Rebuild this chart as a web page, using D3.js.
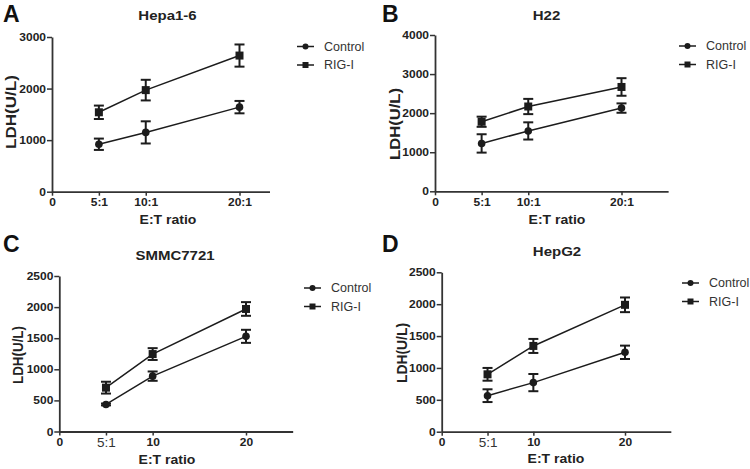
<!DOCTYPE html>
<html><head><meta charset="utf-8">
<script src="https://cdn.jsdelivr.net/npm/d3@7"></script>
<style>body{margin:0;background:#fff}svg{display:block}text{font-family:"Liberation Sans",Arial,sans-serif}</style>
</head><body>
<svg id="c" width="750" height="469"></svg>
<script>
// ---- data ----
const ratios = [5, 10, 20];
const seriesNames = ["Control", "RIG-I"];
const panelLetters = ["A", "B", "C", "D"];
const panelTitles = ["Hepa1-6", "H22", "SMMC7721", "HepG2"];
const xTickValues = [0, 5, 10, 20];
const xTickLabelsAB = ["0", "5:1", "10:1", "20:1"];
const xTickLabelsCD = ["0", "5:1", "10", "20"];
const yTicksA = [0, 1000, 2000, 3000];
const yTicksB = [0, 1000, 2000, 3000, 4000];
const yTicksCD = [0, 500, 1000, 1500, 2000, 2500];

const hepaControl = [920, 1150, 1640];
const hepaControlErr = [110, 215, 120];
const hepaRig = [1540, 1970, 2640];
const hepaRigErr = [130, 200, 215];

const h22Control = [1225, 1545, 2130];
const h22ControlErr = [235, 220, 120];
const h22Rig = [1780, 2170, 2670];
const h22RigErr = [130, 195, 225];

const smmcControl = [435, 890, 1530];
const smmcControlErr = [15, 75, 105];
const smmcRig = [705, 1245, 1970];
const smmcRigErr = [95, 95, 110];

const hepg2Control = [565, 770, 1245];
const hepg2ControlErr = [100, 135, 105];
const hepg2Rig = [900, 1345, 1990];
const hepg2RigErr = [100, 110, 115];

// ---- layout ----
const panels = [
  {letter: panelLetters[0], title: panelTitles[0], x0: 52, x20: 239.5, xMax: 23.2, yB: 191.7, yT: 37, yMax: 3000, yTicks: yTicksA, xLabels: xTickLabelsAB,
   ctrl: hepaControl, ctrlErr: hepaControlErr, rig: hepaRig, rigErr: hepaRigErr,
   letterPos: [3, 22], titlePos: [167.5, 19.5], yLabPos: [11, 112], xLabPos: [168, 224], legend: [297, 46.5], yLabLen: 74},
  {letter: panelLetters[1], title: panelTitles[1], x0: 435, x20: 621.5, xMax: 25, yB: 191.3, yT: 35, yMax: 4000, yTicks: yTicksB, xLabels: xTickLabelsAB,
   ctrl: h22Control, ctrlErr: h22ControlErr, rig: h22Rig, rigErr: h22RigErr,
   letterPos: [382, 22], titlePos: [546.5, 19.5], yLabPos: [395, 124], xLabPos: [557, 224], legend: [679, 46], yLabLen: 72},
  {letter: panelLetters[2], title: panelTitles[2], x0: 59.3, x20: 246, xMax: 25, yB: 431.5, yT: 276, yMax: 2500, yTicks: yTicksCD, xLabels: xTickLabelsCD,
   ctrl: smmcControl, ctrlErr: smmcControlErr, rig: smmcRig, rigErr: smmcRigErr,
   letterPos: [3, 252], titlePos: [175, 259.5], yLabPos: [18, 355], xLabPos: [167, 464], legend: [304, 288], yLabLen: 58},
  {letter: panelLetters[3], title: panelTitles[3], x0: 441.7, x20: 625, xMax: 25, yB: 431.7, yT: 272.3, yMax: 2500, yTicks: yTicksCD, xLabels: xTickLabelsCD,
   ctrl: hepg2Control, ctrlErr: hepg2ControlErr, rig: hepg2Rig, rigErr: hepg2RigErr,
   letterPos: [382, 252], titlePos: [557, 256], yLabPos: [402, 353], xLabPos: [556, 463], legend: [682, 283], yLabLen: 60}
];

const svg = d3.select("#c");
const ink = "#1c1c1c";
const axisInk = "#333";
const SX = 1.2; // horizontal stretch of the original figure text

panels.forEach(p => {
  const g = svg.append("g");
  const x = d3.scaleLinear().domain([0, 20]).range([p.x0, p.x20]);
  const xEnd = x(p.xMax);
  x.domain([0, p.xMax]).range([p.x0, xEnd]);
  const y = d3.scaleLinear().domain([0, p.yMax]).range([p.yB, p.yT]);

  // Y axis
  const ya = g.append("g").attr("transform", `translate(${p.x0},0)`)
    .call(d3.axisLeft(y).tickValues(p.yTicks).tickFormat(d3.format("d")).tickSize(5).tickSizeOuter(0));
  ya.select(".domain").attr("stroke", axisInk).attr("stroke-width", 1.8);
  ya.selectAll(".tick line").attr("stroke", axisInk).attr("stroke-width", 1.5);
  ya.selectAll(".tick text").attr("x", -6 / SX).attr("dy", "0.35em")
    .attr("transform", `scale(${SX},1)`)
    .attr("font-size", 10).attr("font-weight", "bold").attr("fill", "#222")
    .attr("font-family", "'Liberation Sans', Arial, sans-serif");

  // X axis
  const xa = g.append("g").attr("transform", `translate(0,${p.yB})`)
    .call(d3.axisBottom(x).tickValues(xTickValues).tickFormat((d, i) => p.xLabels[i]).tickSize(4).tickSizeOuter(0));
  xa.select(".domain").attr("stroke", axisInk).attr("stroke-width", 1.8);
  xa.selectAll(".tick line").attr("stroke", axisInk).attr("stroke-width", 1.5);
  xa.selectAll(".tick text").attr("y", 7.5).attr("dy", "0.71em")
    .attr("transform", `scale(${SX},1)`)
    .attr("font-size", 10).attr("font-weight", "bold").attr("fill", "#222")
    .attr("font-family", "'Liberation Sans', Arial, sans-serif");
  if (p.xLabels === xTickLabelsCD) {
    xa.selectAll(".tick text").filter((d) => d === 5)
      .attr("font-weight", "normal").attr("font-size", 13.5).attr("transform", null).attr("y", 6).attr("fill", "#333");
  }

  // series
  const series = [
    {vals: p.ctrl, errs: p.ctrlErr, shape: "circle"},
    {vals: p.rig, errs: p.rigErr, shape: "square"}
  ];
  series.forEach(s => {
    const pts = ratios.map((r, i) => ({x: r, y: s.vals[i], e: s.errs[i]}));
    g.append("path").datum(pts)
      .attr("d", d3.line().x(d => x(d.x)).y(d => y(d.y)))
      .attr("fill", "none").attr("stroke", ink).attr("stroke-width", 1.5);
    const eb = g.append("g").selectAll("g").data(pts).join("g");
    eb.append("line").attr("x1", d => x(d.x)).attr("x2", d => x(d.x))
      .attr("y1", d => y(d.y + d.e)).attr("y2", d => y(d.y - d.e))
      .attr("stroke", ink).attr("stroke-width", 2);
    eb.append("line").attr("x1", d => x(d.x) - 5).attr("x2", d => x(d.x) + 5)
      .attr("y1", d => y(d.y + d.e)).attr("y2", d => y(d.y + d.e))
      .attr("stroke", ink).attr("stroke-width", 2);
    eb.append("line").attr("x1", d => x(d.x) - 5).attr("x2", d => x(d.x) + 5)
      .attr("y1", d => y(d.y - d.e)).attr("y2", d => y(d.y - d.e))
      .attr("stroke", ink).attr("stroke-width", 2);
    if (s.shape === "circle") {
      eb.append("circle").attr("cx", d => x(d.x)).attr("cy", d => y(d.y)).attr("r", 3.8).attr("fill", ink);
    } else {
      eb.append("rect").attr("x", d => x(d.x) - 4).attr("y", d => y(d.y) - 4)
        .attr("width", 8).attr("height", 8).attr("fill", ink);
    }
  });

  // legend
  const lg = g.append("g").attr("transform", `translate(${p.legend[0]},${p.legend[1]})`);
  seriesNames.forEach((name, i) => {
    const row = lg.append("g").attr("transform", `translate(0,${i * 18.5})`);
    row.append("line").attr("x1", 0).attr("x2", 17).attr("y1", 0).attr("y2", 0)
      .attr("stroke", ink).attr("stroke-width", 1.5);
    if (i === 0) row.append("circle").attr("cx", 8.5).attr("cy", 0).attr("r", 3).attr("fill", ink);
    else row.append("rect").attr("x", 5.5).attr("y", -3).attr("width", 6).attr("height", 6).attr("fill", ink);
    row.append("text").attr("x", 27).attr("y", 0).attr("dy", "0.35em")
      .attr("font-size", 12.5).attr("fill", "#333").text(name);
  });

  // panel letter
  g.append("text").attr("x", p.letterPos[0]).attr("y", p.letterPos[1])
    .attr("font-size", 23).attr("font-weight", "bold").attr("fill", "#111").text(p.letter);
  // title
  g.append("text").attr("transform", `translate(${p.titlePos[0]},${p.titlePos[1]}) scale(1.2,1)`)
    .attr("text-anchor", "middle").attr("font-size", 12.5).attr("font-weight", "bold").attr("fill", "#222").text(p.title);
  // y label
  g.append("text").attr("transform", `translate(${p.yLabPos[0]},${p.yLabPos[1]}) rotate(-90)`)
    .attr("text-anchor", "middle").attr("dy", "0.35em")
    .attr("font-size", 14).attr("font-weight", "bold").attr("fill", "#222")
    .attr("textLength", p.yLabLen).attr("lengthAdjust", "spacingAndGlyphs").text("LDH(U/L)");
  // x label
  g.append("text").attr("transform", `translate(${p.xLabPos[0]},${p.xLabPos[1]}) scale(1.12,1)`)
    .attr("text-anchor", "middle").attr("font-size", 12.5).attr("font-weight", "bold").attr("fill", "#222").text("E:T ratio");
});
</script>
</body></html>
